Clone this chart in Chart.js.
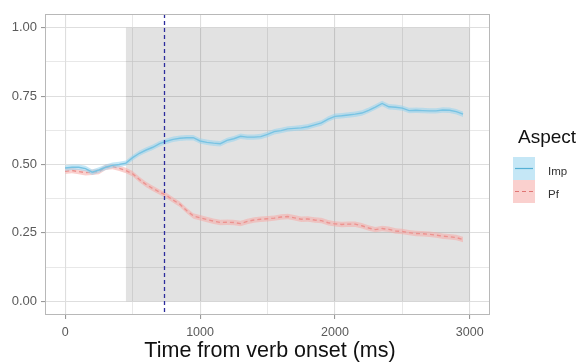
<!DOCTYPE html>
<html>
<head>
<meta charset="utf-8">
<script src="https://cdn.jsdelivr.net/npm/chart.js@4/dist/chart.umd.min.js"></script>
<style>
  html, body { margin: 0; padding: 0; background: #fff; }
  #wrap { position: relative; width: 583px; height: 363px; }
</style>
</head>
<body>
<div id="wrap"><canvas id="chartAspect"></canvas></div>
<script>
// time bins (ms from verb onset)
const timeMs = [0, 50, 100, 150, 200, 250, 300, 350, 400, 450, 500, 550, 600, 650, 700, 750, 800, 850, 900, 950,
  1000, 1050, 1100, 1150, 1200, 1250, 1300, 1350, 1400, 1450, 1500, 1550, 1600, 1650, 1700, 1750, 1800, 1850, 1900, 1950,
  2000, 2050, 2100, 2150, 2200, 2250, 2300, 2350, 2400, 2450, 2500, 2550, 2600, 2650, 2700, 2750, 2800, 2850, 2900, 2950];

const impValues = [0.487, 0.490, 0.490, 0.485, 0.472, 0.480, 0.490, 0.497, 0.500, 0.505,
  0.525, 0.541, 0.553, 0.563, 0.576, 0.585, 0.592, 0.596, 0.598, 0.598,
  0.586, 0.581, 0.578, 0.576, 0.588, 0.594, 0.603, 0.600, 0.600, 0.602,
  0.610, 0.620, 0.624, 0.630, 0.632, 0.634, 0.638, 0.645, 0.652, 0.666,
  0.676, 0.678, 0.681, 0.684, 0.688, 0.698, 0.710, 0.723, 0.711, 0.709,
  0.706, 0.697, 0.698, 0.697, 0.696, 0.696, 0.699, 0.698, 0.693, 0.684];

const pfValues = [0.475, 0.478, 0.474, 0.470, 0.472, 0.474, 0.490, 0.493, 0.486, 0.478,
  0.466, 0.445, 0.427, 0.412, 0.399, 0.387, 0.370, 0.355, 0.332, 0.312,
  0.305, 0.299, 0.293, 0.288, 0.289, 0.288, 0.284, 0.292, 0.297, 0.300,
  0.302, 0.304, 0.308, 0.310, 0.305, 0.300, 0.301, 0.297, 0.295, 0.287,
  0.283, 0.281, 0.282, 0.282, 0.276, 0.268, 0.262, 0.266, 0.263, 0.257,
  0.255, 0.251, 0.248, 0.247, 0.245, 0.242, 0.238, 0.236, 0.233, 0.226];

const ribbonHalf = 0.010;          // half-width of the confidence band
const xTicks = [0, 500, 1000, 1500, 2000, 2500, 3000];
const yTicks = [0, 0.125, 0.25, 0.375, 0.5, 0.625, 0.75, 0.875, 1.0];
const windowStart = 450;           // analysis window
const windowEnd = 3000;
const markerMs = 733;              // mean verb offset
const seriesNames = ['Imp', 'Pf'];
const legendTitle = 'Aspect';
const xTitle = 'Time from verb onset (ms)';

const FONT = '"Liberation Sans", Arial, sans-serif';
const colors = {
  imp: '#55b0d5', impBand: 'rgba(150,212,238,0.55)',
  pf: '#e07674', pfBand: 'rgba(246,170,165,0.55)',
  grid: '#dedede', border: '#b8b8b8', text: '#5a5a5a'
};

const pts = vals => vals.map((v, i) => ({ x: timeMs[i], y: v }));
const band = (vals, s) => vals.map((v, i) => ({ x: timeMs[i], y: v + s * ribbonHalf }));

const isMajorX = v => v % 1000 === 0;
const isMajorY = v => Math.abs(v * 4 - Math.round(v * 4)) < 1e-9;

const panelPlugin = {
  id: 'panel',
  beforeDatasetsDraw(chart) {
    const { ctx, scales: { x, y } } = chart;
    // shaded analysis window
    ctx.save();
    ctx.fillStyle = 'rgba(0,0,0,0.115)';
    const x0 = x.getPixelForValue(windowStart), x1 = x.getPixelForValue(windowEnd);
    const y0 = y.getPixelForValue(1), y1 = y.getPixelForValue(0);
    ctx.fillRect(x0, y0, x1 - x0, y1 - y0);
    ctx.restore();
  },
  afterDatasetsDraw(chart) {
    const { ctx, chartArea: a, scales: { x } } = chart;
    ctx.save();
    // vertical marker
    const mx = Math.round(x.getPixelForValue(markerMs)) + 0.5;
    ctx.strokeStyle = '#2c2c9c';
    ctx.lineWidth = 1.3;
    ctx.setLineDash([4, 3]);
    ctx.beginPath();
    ctx.moveTo(mx, a.top);
    ctx.lineTo(mx, a.bottom);
    ctx.stroke();
    ctx.setLineDash([]);
    // panel border
    ctx.strokeStyle = colors.border;
    ctx.lineWidth = 1;
    ctx.strokeRect(a.left + 0.5, a.top + 0.5, a.right - a.left - 1, a.bottom - a.top - 1);
    ctx.restore();
  },
  afterDraw(chart) {
    const { ctx, chartArea: a } = chart;
    ctx.save();
    // x axis title
    ctx.fillStyle = '#111';
    ctx.font = '21.5px ' + FONT;
    ctx.textAlign = 'center';
    ctx.textBaseline = 'alphabetic';
    ctx.fillText(xTitle, 270, 357);
    // legend
    ctx.textAlign = 'left';
    ctx.font = '19px ' + FONT;
    ctx.fillText(legendTitle, 518, 143);
    const keys = [
      { band: colors.impBand, line: colors.imp, dash: [] },
      { band: colors.pfBand, line: colors.pf, dash: [4, 3] }
    ];
    keys.forEach((k, i) => {
      const top = 157 + i * 23;
      ctx.fillStyle = '#ffffff';
      ctx.fillRect(513, top, 22, 23);
      ctx.fillStyle = k.band;
      ctx.fillRect(513, top, 22, 23);
      ctx.strokeStyle = k.line;
      ctx.lineWidth = 1.2;
      ctx.setLineDash(k.dash);
      ctx.beginPath();
      ctx.moveTo(515, top + 11.5);
      ctx.lineTo(533, top + 11.5);
      ctx.stroke();
      ctx.setLineDash([]);
      ctx.fillStyle = '#333';
      ctx.font = '11.5px ' + FONT;
      ctx.textBaseline = 'middle';
      ctx.fillText(seriesNames[i], 548, top + 15);
    });
    ctx.restore();
  }
};

new Chart(document.getElementById('chartAspect').getContext('2d'), {
  type: 'line',
  data: {
    datasets: [
      { data: band(impValues, -1), borderWidth: 0, pointRadius: 0, fill: false },
      { data: band(impValues, 1), borderWidth: 0, pointRadius: 0, fill: '-1', backgroundColor: colors.impBand },
      { label: seriesNames[0], data: pts(impValues), borderColor: colors.imp, borderWidth: 1.4, pointRadius: 0, fill: false },
      { data: band(pfValues, -1), borderWidth: 0, pointRadius: 0, fill: false },
      { data: band(pfValues, 1), borderWidth: 0, pointRadius: 0, fill: '-1', backgroundColor: colors.pfBand },
      { label: seriesNames[1], data: pts(pfValues), borderColor: colors.pf, borderWidth: 1.4, borderDash: [4, 3], pointRadius: 0, fill: false }
    ]
  },
  options: {
    responsive: true, maintainAspectRatio: false, animation: false,
    layout: { padding: { left: 0, top: 14, right: 93, bottom: 0 } },
    plugins: { legend: { display: false }, tooltip: { enabled: false } },
    elements: { line: { tension: 0 } },
    scales: {
      x: {
        type: 'linear', min: -150, max: 3150,
        afterBuildTicks: s => { s.ticks = xTicks.map(v => ({ value: v })); },
        afterFit: s => { s.height = 48; },
        ticks: {
          color: colors.text, padding: 6, maxRotation: 0,
          font: { size: 12.5, family: FONT },
          callback: v => isMajorX(v) ? String(v) : ''
        },
        grid: {
          color: colors.grid,
          lineWidth: c => isMajorX(c.tick.value) ? 1.1 : 0.7,
          tickLength: 4,
          tickColor: c => isMajorX(c.tick.value) ? '#999' : 'rgba(0,0,0,0)'
        },
        border: { display: false }
      },
      y: {
        min: -0.05, max: 1.05,
        afterBuildTicks: s => { s.ticks = yTicks.map(v => ({ value: v })); },
        afterFit: s => { s.width = 45; },
        ticks: {
          color: colors.text, padding: 4,
          font: { size: 13, family: FONT },
          callback: v => isMajorY(v) ? v.toFixed(2) : ''
        },
        grid: {
          color: colors.grid,
          lineWidth: c => isMajorY(c.tick.value) ? 1.1 : 0.7,
          tickLength: 4,
          tickColor: c => isMajorY(c.tick.value) ? '#999' : 'rgba(0,0,0,0)'
        },
        border: { display: false }
      }
    }
  },
  plugins: [panelPlugin]
});
</script>
</body>
</html>
